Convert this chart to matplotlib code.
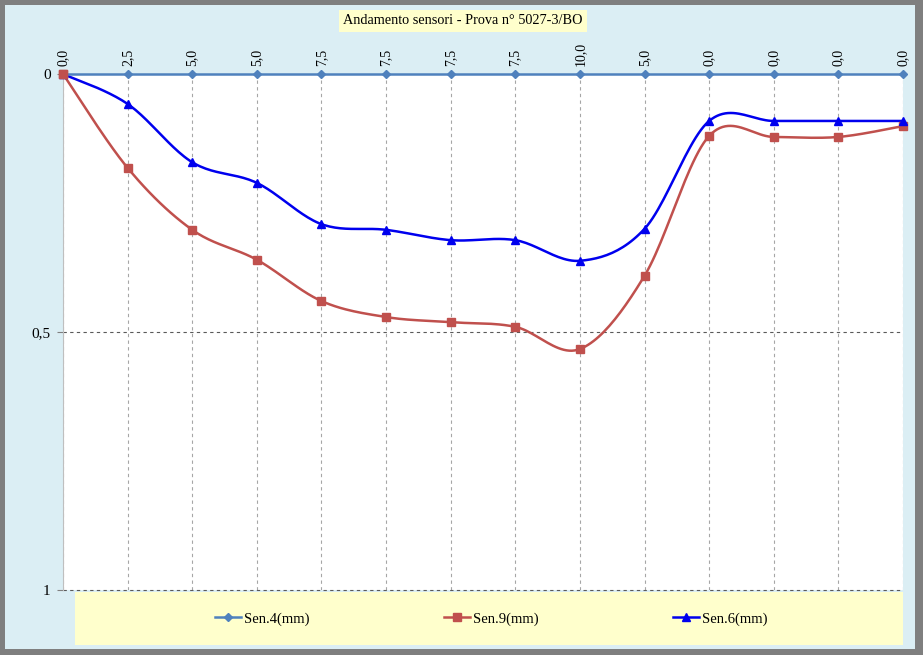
import numpy as np
import matplotlib.pyplot as plt
from matplotlib.patches import Rectangle
from matplotlib.lines import Line2D

# data
labels = ['0,0', '2,5', '5,0', '5,0', '7,5', '7,5', '7,5', '7,5',
          '10,0', '5,0', '0,0', '0,0', '0,0', '0,0']
sen4 = [0.0] * 14
sen9 = [0.0, 0.182, 0.302, 0.360, 0.440, 0.471, 0.481, 0.490,
        0.533, 0.391, 0.120, 0.122, 0.122, 0.101]
sen6 = [0.0, 0.058, 0.171, 0.211, 0.291, 0.302, 0.322, 0.322,
        0.362, 0.300, 0.091, 0.091, 0.091, 0.091]


def smooth(xs, ys, n=25):
    # excel style smoothed line (bezier through the points)
    pts = np.column_stack([xs, ys]).astype(float)
    p = np.vstack([pts[0], pts, pts[-1]])
    out = []
    t = np.linspace(0, 1, n)[:, None]
    for i in range(1, len(p) - 2):
        p0, p1, p2, p3 = p[i - 1], p[i], p[i + 1], p[i + 2]
        c1 = p1 + (p2 - p0) / 6
        c2 = p2 - (p3 - p1) / 6
        seg = (1 - t)**3 * p1 + 3 * (1 - t)**2 * t * c1 + 3 * (1 - t) * t**2 * c2 + t**3 * p2
        out.append(seg)
    out = np.vstack(out)
    return out[:, 0], out[:, 1]


plt.rcParams['font.family'] = ['Liberation Serif', 'DejaVu Serif']

W, H = 923, 655
fig = plt.figure(figsize=(W / 100, H / 100), dpi=100)
fig.patch.set_facecolor('#7f7f7f')
fig.patches.append(Rectangle((5 / W, 6 / H), 910 / W, 644 / H, transform=fig.transFigure,
                             facecolor='#dbeef4', edgecolor='none', zorder=-10))
# legend background
fig.patches.append(Rectangle((75 / W, 10 / H), 828 / W, 53 / H, transform=fig.transFigure,
                             facecolor='#ffffcc', edgecolor='none', zorder=-9))

ax = fig.add_axes([63 / W, 65 / H, 840 / W, 516 / H])
ax.set_facecolor('white')

x = np.arange(len(labels))
ax.set_xlim(0, len(labels) - 1)
ax.set_ylim(1, 0)

for v in x:
    ax.axvline(v, color='#a6a6a6', lw=0.8, ls=(0, (3, 3)), zorder=1)
for v in [0.5, 1.0]:
    ax.axhline(v, color='#595959', lw=0.8, ls=(0, (3, 3)), zorder=1, clip_on=False)

sx, sy = smooth(x, sen9)
ax.plot(sx, sy, color='#c0504d', lw=1.8, zorder=3, clip_on=False)
ax.plot(x, sen9, ls='none', marker='s', ms=6, color='#c0504d', zorder=4, clip_on=False)

sx, sy = smooth(x, sen6)
ax.plot(sx, sy, color='#0000ee', lw=1.8, zorder=3, clip_on=False)
ax.plot(x, sen6, ls='none', marker='^', ms=6, color='#0000ee', zorder=4, clip_on=False)

ax.plot(x, sen4, color='#4f81bd', lw=1.8, marker='D', ms=4, zorder=5, clip_on=False)
ax.plot(x[:1], sen9[:1], ls='none', marker='s', ms=6, color='#c0504d', zorder=6, clip_on=False)

ax.xaxis.tick_top()
ax.set_xticks(x)
ax.set_xticklabels(labels, rotation=90, fontsize=10)
ax.set_yticks([0, 0.5, 1])
ax.set_yticklabels(['0', '0,5', '1'], fontsize=11)
ax.tick_params(axis='x', length=0, pad=6)
ax.tick_params(axis='y', length=4, width=0.8, color='#808080', pad=5)
for s in ['top', 'right', 'bottom']:
    ax.spines[s].set_visible(False)
ax.spines['left'].set_color('#bfbfbf')

fig.text(463 / W, 1 - 21 / H, 'Andamento sensori - Prova n° 5027-3/BO', ha='center', va='center',
         fontsize=10.3, bbox=dict(facecolor='#ffffcc', edgecolor='none', pad=3))

handles = [Line2D([], [], color='#4f81bd', lw=1.8, marker='D', ms=4),
           Line2D([], [], color='#c0504d', lw=1.8, marker='s', ms=6),
           Line2D([], [], color='#0000ee', lw=1.8, marker='^', ms=6)]
fig.legend(handles, ['Sen.4(mm)', 'Sen.9(mm)', 'Sen.6(mm)'], ncol=3, frameon=False,
           loc='center', bbox_to_anchor=(491 / W, 1 - 619 / H), fontsize=10.5,
           handlelength=1.8, handletextpad=0.2, columnspacing=9.2)

fig.savefig('out.png', dpi=100, facecolor=fig.get_facecolor())
